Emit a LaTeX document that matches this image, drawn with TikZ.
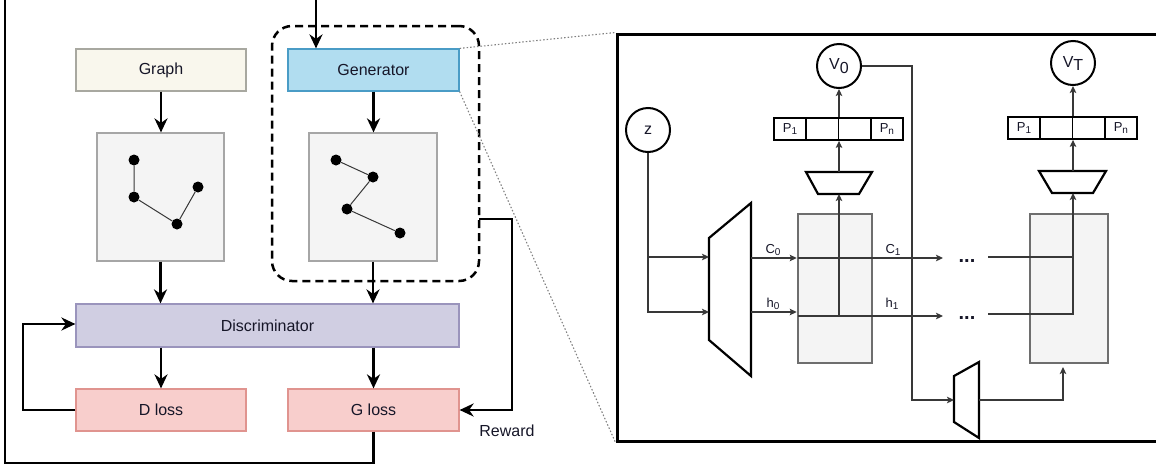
\documentclass[tikz,border=0pt]{standalone}
\usepackage{fontspec}
\setmainfont{Liberation Sans}
\usetikzlibrary{arrows.meta,calc}
\definecolor{graphfill}{HTML}{F9F7ED}
\definecolor{graphdraw}{HTML}{A8A8A0}
\definecolor{genfill}{HTML}{B1DDF0}
\definecolor{gendraw}{HTML}{4A9CC6}
\definecolor{panelfill}{HTML}{F4F4F4}
\definecolor{paneldraw}{HTML}{A6A6A6}
\definecolor{discfill}{HTML}{D0CEE2}
\definecolor{discdraw}{HTML}{9A94BC}
\definecolor{lossfill}{HTML}{F8CECC}
\definecolor{lossdraw}{HTML}{E0948F}
\definecolor{txtc}{HTML}{161628}
\definecolor{thinc}{HTML}{383838}
\definecolor{celldraw}{HTML}{6E6E6E}
\definecolor{dotc}{HTML}{808080}
\newcommand{\fsA}{\fontsize{16}{19}\selectfont}
\newcommand{\fsP}{\fontsize{13}{15}\selectfont}
\newcommand{\sbs}[1]{\raisebox{-2.5pt}{\fontsize{10}{10}\selectfont #1}}
\begin{document}
\begin{tikzpicture}[x=1pt,y=-1pt,
  boxbase/.style={draw, line width=1.2pt, inner sep=0pt, font=\fsA, text=txtc},
  flowbox/.style={boxbase, minimum width=170pt, minimum height=42pt},
  panel/.style={draw=paneldraw, fill=panelfill, line width=1.2pt, minimum width=127pt, minimum height=128pt, inner sep=0pt},
  bigarr/.style={line width=2.5pt, -{Stealth[length=14pt,width=13pt,inset=4.5pt]}},
  bigline/.style={line width=2.5pt},
  smallarr/.style={line width=1.2pt, draw=thinc, -{Stealth[length=7pt,width=6.5pt,inset=1.5pt]}},
  thinline/.style={line width=1.2pt, draw=thinc},
  gdot/.style={circle, fill=black, minimum size=11pt, inner sep=0pt},
  gedge/.style={line width=1pt, draw=thinc},
  circ/.style={circle, draw, line width=2pt, minimum size=44pt, inner sep=0pt, font=\fsA, text=txtc},
  pcell/.style={draw, line width=1.8pt, minimum width=32.25pt, minimum height=22pt, inner sep=0pt, font=\fsP, text=txtc},
  cellbox/.style={draw=celldraw, fill=panelfill, line width=2.6pt, minimum height=149pt, inner sep=0pt},
  trapline/.style={draw, fill=white, line width=2.2pt, line join=miter},
  zoomline/.style={draw=dotc, line width=1.1pt, dash pattern=on 1.5pt off 2pt},
  lbl/.style={font=\fsP, text=txtc, inner sep=0pt},
  dotsl/.style={font=\fontsize{20}{20}\selectfont\bfseries, text=txtc, inner sep=0pt}
]
\useasboundingbox (0,0) rectangle (1156,469);

% ---------- right frame ----------
\node[draw, line width=3pt, minimum width=560pt, minimum height=407pt, inner sep=0pt] (frame) at (897,237.5) {};

% ---------- left: flow ----------
\node[flowbox, draw=graphdraw, fill=graphfill] (graph) at (161,70) {Graph};
\node[flowbox, draw=gendraw, fill=genfill, minimum width=171pt] (gen) at (373.5,70) {Generator};
\node[panel] (panelL) at (160.5,197) {};
\node[panel, minimum width=128pt] (panelR) at (373,197) {};
\node[boxbase, draw=discdraw, fill=discfill, minimum width=383pt, minimum height=43pt] (disc) at (267.5,325.5) {Discriminator};
\node[flowbox, draw=lossdraw, fill=lossfill] (dloss) at (161,410) {D loss};
\node[flowbox, draw=lossdraw, fill=lossfill, minimum width=171pt] (gloss) at (373.5,410) {G loss};
\node[draw, line width=2.5pt, dash pattern=on 8pt off 5pt, rounded corners=20pt, minimum width=207pt, minimum height=255pt, inner sep=0pt] (genbox) at (375.5,153.5) {};

\draw[zoomline] (gen.north east) -- (frame.north west);
\draw[zoomline] (gen.south east) -- (frame.south west);

% graphs in panels
\node[gdot] (a1) at (134,160) {};
\node[gdot] (a2) at (134,197) {};
\node[gdot] (a3) at (177,224) {};
\node[gdot] (a4) at (198,187) {};
\draw[gedge] (a1) -- (a2) -- (a3) -- (a4);
\node[gdot] (b1) at (336,160) {};
\node[gdot] (b2) at (373,177) {};
\node[gdot] (b3) at (347,209) {};
\node[gdot] (b4) at (400,233) {};
\draw[gedge] (b1) -- (b2) -- (b3) -- (b4);

% flow arrows
\coordinate (topin) at (316,-3);
\draw[bigarr] (topin) -- (topin |- gen.north);
\draw[bigarr] (graph.south) -- (graph.south |- panelL.north);
\draw[bigarr] (gen.south) -- (gen.south |- panelR.north);
\draw[bigarr] (panelL.south) -- (panelL.south |- disc.north);
\draw[bigarr] (panelR.south) -- (panelR.south |- disc.north);
\draw[bigarr] (dloss.north |- disc.south) -- (dloss.north);
\draw[bigarr] (gloss.north |- disc.south) -- (gloss.north);
\draw[bigarr] (dloss.west) -- (23,410) |- (disc.west |- 0,324);
\coordinate (fbcorner) at (5,463);
\draw[bigline] (gloss.south) |- (fbcorner) -- (5,-3);
\coordinate (rwstart) at (479,219);
\draw[bigarr] (rwstart) -- (512,219) |- (gloss.east);
\node[font=\fsA, text=txtc, inner sep=0pt] (reward) at (507,431) {Reward};

% ---------- right: LSTM generator ----------
\node[cellbox, minimum width=74pt] (cell0) at (835,288.5) {};
\node[cellbox, minimum width=78pt] (cellT) at (1069,288.5) {};

\node[circ] (z) at (648,130) {z};
\node[circ] (v0) at (839,66) {V\raisebox{-3.5pt}{0}};
\node[circ] (vT) at (1073,63) {V\raisebox{-3pt}{T}};

% probability bars
\node[pcell] (p01) at (790.1,129) {P\sbs{1}};
\node[pcell] (p02) at (822.4,129) {};
\node[pcell] (p03) at (854.6,129) {};
\node[pcell] (p04) at (886.9,129) {P\sbs{n}};
\node[pcell] (pT1) at (1024.1,128) {P\sbs{1}};
\node[pcell] (pT2) at (1056.4,128) {};
\node[pcell] (pT3) at (1088.6,128) {};
\node[pcell] (pT4) at (1120.9,128) {P\sbs{n}};

% trapezoids
\draw[trapline] (806,172) -- (872,172) -- (859,194) -- (818,194) -- cycle;
\coordinate (t0top) at (839,172);
\coordinate (t0bot) at (839,194);
\draw[trapline] (1039,171) -- (1106,171) -- (1093,193) -- (1052,193) -- cycle;
\coordinate (tTtop) at (1073,171);
\coordinate (tTbot) at (1073,193);
\draw[trapline] (709,238) -- (751,203) -- (751,376) -- (709,340) -- cycle;
\coordinate (encinc) at (709,257);
\coordinate (encinh) at (709,312);
\coordinate (encoutc) at (751,258);
\coordinate (encouth) at (751,312);
\draw[trapline] (954,376) -- (979,362) -- (979,438) -- (954,422) -- cycle;
\coordinate (minin) at (954,400);
\coordinate (minout) at (979,400);

% dots
\node[dotsl] (dotsc) at (967,261) {...};
\node[dotsl] (dotsh) at (967,318) {...};

% z to encoder
\draw[smallarr] (z.south) |- (encinh);
\draw[smallarr] (z.south |- encinc) -- (encinc);
% encoder to cell 0
\draw[smallarr] (encoutc) -- (cell0.west |- encoutc);
\draw[smallarr] (encouth) -- (cell0.west |- encouth);
% through cell 0 to dots
\coordinate (cin) at (798,258);
\coordinate (hin) at (798,316);
\coordinate (dotcin) at (943,258);
\coordinate (dothin) at (943,316);
\draw[smallarr] (cin) -- (dotcin);
\draw[smallarr] (hin) -- (dothin);
\coordinate (h0up) at (839,316);
\draw[smallarr] (h0up) -- (t0bot);
\draw[smallarr] (t0top) -- (t0top |- p02.south);
\draw[smallarr] (v0.south |- p02.north) -- (v0.south);
% from dots into cell T
\coordinate (dotcout) at (988,257);
\coordinate (dothout) at (988,314);
\draw[thinline] (dotcout) -- (1073,257);
\draw[smallarr] (dothout) -- (1073,314) -- (tTbot);
\draw[smallarr] (tTtop) -- (tTtop |- pT2.south);
\draw[smallarr] (vT.south |- pT2.north) -- (vT.south);
% V0 feedback through small encoder
\draw[smallarr] (v0.east) -- (912,66) |- (minin);
\coordinate (cellTin) at (1063,367);
\draw[smallarr] (minout) -| (cellTin);

% labels
\node[lbl] (lc0) at (773,250) {C\sbs{0}};
\node[lbl] (lh0) at (773,304) {h\sbs{0}};
\node[lbl] (lc1) at (893,250) {C\sbs{1}};
\node[lbl] (lh1) at (892,304) {h\sbs{1}};
\end{tikzpicture}
\end{document}
